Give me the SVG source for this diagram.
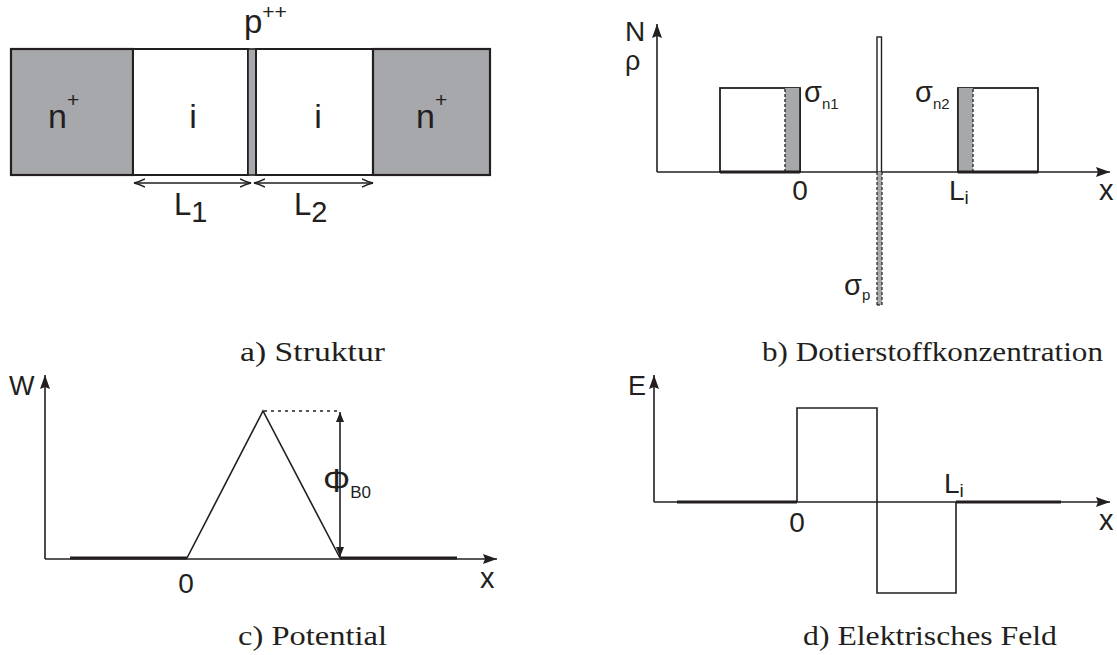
<svg xmlns="http://www.w3.org/2000/svg" width="1117" height="655" viewBox="0 0 1117 655">
<defs>
<style>
.ln{stroke:#231f20;stroke-width:1.6;fill:none}
.bx{stroke:#231f20;stroke-width:2;fill:#fff}
.gr{fill:#a7a8ab;stroke:#231f20;stroke-width:1.6}
.thk{stroke:#231f20;stroke-width:2.8;fill:none}
.dash{stroke:#231f20;stroke-width:1.3;stroke-dasharray:3,2;fill:none}
.t{font-family:"Liberation Sans",Arial,sans-serif;fill:#231f20}
.cap{font-family:"Liberation Serif","Times New Roman",serif;fill:#231f20;font-size:27px}
</style>
<marker id="ah" viewBox="0 0 14 10" refX="14" refY="5" markerWidth="14" markerHeight="10" markerUnits="userSpaceOnUse" orient="auto-start-reverse">
<path d="M0,0 L14,5 L0,10 L2,5 z" fill="#231f20"/>
</marker>
<marker id="ch" viewBox="0 0 12 10" refX="11" refY="5" markerWidth="12" markerHeight="10" markerUnits="userSpaceOnUse" orient="auto-start-reverse">
<path d="M0,1 Q6,4 11,5 Q6,6 0,9" fill="none" stroke="#231f20" stroke-width="1.5"/>
</marker>
<marker id="sa" viewBox="0 0 10 8" refX="10" refY="4" markerWidth="10" markerHeight="8" markerUnits="userSpaceOnUse" orient="auto-start-reverse">
<path d="M0,0 L10,4 L0,8 z" fill="#231f20"/>
</marker>
</defs>

<!-- Panel a: Struktur -->
<g id="panel-a">
  <g id="n-left"><rect x="11" y="49" width="122" height="126" class="gr" style="stroke-width:2.2"/>
    <text class="t" x="48" y="128" font-size="34">n<tspan font-size="21" dy="-21">+</tspan></text></g>
  <g id="i-left"><rect x="133" y="49" width="115" height="126" class="bx"/>
    <text class="t" x="193" y="128" font-size="34" text-anchor="middle">i</text></g>
  <g id="p-layer"><rect x="248" y="49" width="8" height="126" class="gr"/>
    <text class="t" x="244" y="33" font-size="33">p<tspan font-size="21" dy="-14">++</tspan></text></g>
  <g id="i-right"><rect x="256" y="49" width="117" height="126" class="bx"/>
    <text class="t" x="318" y="128" font-size="34" text-anchor="middle">i</text></g>
  <g id="n-right"><rect x="373" y="49" width="117" height="126" class="gr" style="stroke-width:2.2"/>
    <text class="t" x="416" y="128" font-size="34">n<tspan font-size="21" dy="-21">+</tspan></text></g>
  <g id="dims">
    <line x1="134" y1="183" x2="251" y2="183" class="ln" stroke-width="1.4" marker-start="url(#ch)" marker-end="url(#ch)"/>
    <line x1="254" y1="183" x2="373" y2="183" class="ln" stroke-width="1.4" marker-start="url(#ch)" marker-end="url(#ch)"/>
    <text class="t" x="174" y="215" font-size="31">L<tspan font-size="29" dy="7">1</tspan></text>
    <text class="t" x="294" y="215" font-size="31">L<tspan font-size="29" dy="7">2</tspan></text>
  </g>
  <text class="cap" x="240" y="361" textLength="145" lengthAdjust="spacingAndGlyphs">a) Struktur</text>
</g>

<!-- Panel b: Dotierstoffkonzentration -->
<g id="panel-b">
  <g id="b-axes">
    <line x1="657" y1="172" x2="657" y2="24" class="ln" marker-end="url(#ah)"/>
    <line x1="657" y1="172" x2="1110" y2="172" class="ln" marker-end="url(#ah)"/>
    <text class="t" x="625" y="41" font-size="28">N</text>
    <text class="t" x="625" y="70" font-size="27">ρ</text>
    <text class="t" x="1099" y="200" font-size="29">x</text>
  </g>
  <g id="n1-doping">
    <rect x="720" y="88" width="80" height="84" class="bx" style="stroke-width:1.8"/>
    <rect x="785" y="88" width="15" height="84" fill="#a7a8ab"/>
    <line x1="785" y1="89" x2="785" y2="171" class="dash"/>
    <line x1="800" y1="88" x2="800" y2="172" class="ln" stroke-width="2"/>
    <line x1="720" y1="172" x2="800" y2="172" class="thk"/>
    <text class="t" x="804" y="102" font-size="29">σ<tspan font-size="15" dy="7">n1</tspan></text>
    <text class="t" x="800" y="200" font-size="28" text-anchor="middle">0</text>
  </g>
  <g id="p-doping">
    <rect x="877" y="37" width="4.5" height="135" class="bx" style="stroke-width:1.4"/>
    <rect x="877" y="172" width="5" height="133" fill="#a7a8ab"/>
    <line x1="877" y1="172" x2="877" y2="305" class="dash" style="stroke-width:1.2"/>
    <line x1="882" y1="172" x2="882" y2="305" class="dash" style="stroke-width:1.2"/>
    <line x1="877" y1="305" x2="882" y2="305" class="dash" style="stroke-width:1.2"/>
    <text class="t" x="844" y="295" font-size="29">σ<tspan font-size="15" dy="5">p</tspan></text>
  </g>
  <g id="n2-doping">
    <rect x="958" y="88" width="80" height="84" class="bx" style="stroke-width:1.8"/>
    <rect x="958" y="88" width="15" height="84" fill="#a7a8ab"/>
    <line x1="958" y1="88" x2="958" y2="172" class="ln" stroke-width="2"/>
    <line x1="973" y1="89" x2="973" y2="171" class="dash"/>
    <line x1="958" y1="172" x2="1038" y2="172" class="thk"/>
    <text class="t" x="915" y="102" font-size="29">σ<tspan font-size="15" dy="7">n2</tspan></text>
    <text class="t" x="949" y="200" font-size="28">L<tspan font-size="19" dy="4">i</tspan></text>
  </g>
  <text class="cap" x="762" y="361" textLength="341" lengthAdjust="spacingAndGlyphs">b) Dotierstoffkonzentration</text>
</g>

<!-- Panel c: Potential -->
<g id="panel-c">
  <g id="c-axes">
    <line x1="45" y1="559" x2="45" y2="375" class="ln" marker-end="url(#ah)"/>
    <line x1="45" y1="559" x2="497" y2="559" class="ln" marker-end="url(#ah)"/>
    <text class="t" x="9" y="395" font-size="27">W</text>
    <text class="t" x="480" y="588" font-size="29">x</text>
    <text class="t" x="186" y="593" font-size="28" text-anchor="middle">0</text>
  </g>
  <g id="c-curve">
    <line x1="70" y1="558" x2="187" y2="558" class="thk"/>
    <line x1="340" y1="558" x2="457" y2="558" class="thk"/>
    <polyline points="187,558 263,411 340,558" class="ln" stroke-width="1.8"/>
    <line x1="264" y1="411" x2="340" y2="411" class="ln" stroke-width="1.2" stroke-dasharray="3,4"/>
    <line x1="340" y1="412" x2="340" y2="557" class="ln" stroke-width="1.3" marker-start="url(#sa)" marker-end="url(#sa)"/>
    <text class="t" x="323" y="492" font-size="34">Φ<tspan font-size="17" dy="6">B0</tspan></text>
  </g>
  <text class="cap" x="238" y="645" textLength="149" lengthAdjust="spacingAndGlyphs">c) Potential</text>
</g>

<!-- Panel d: Elektrisches Feld -->
<g id="panel-d">
  <g id="d-axes">
    <line x1="654" y1="502" x2="654" y2="375" class="ln" marker-end="url(#ah)"/>
    <line x1="654" y1="502" x2="1110" y2="502" class="ln" marker-end="url(#ah)"/>
    <text class="t" x="628" y="395" font-size="27">E</text>
    <text class="t" x="1099" y="530" font-size="29">x</text>
    <text class="t" x="797" y="532" font-size="28" text-anchor="middle">0</text>
    <text class="t" x="944" y="493" font-size="28">L<tspan font-size="19" dy="4">i</tspan></text>
  </g>
  <g id="d-curve">
    <line x1="677" y1="502" x2="797" y2="502" class="thk"/>
    <line x1="956" y1="502" x2="1061" y2="502" class="thk"/>
    <polyline points="797,502 797,408 877,408 877,593 956,593 956,502" class="ln" stroke-width="1.8"/>
  </g>
  <text class="cap" x="803" y="645" textLength="254" lengthAdjust="spacingAndGlyphs">d) Elektrisches Feld</text>
</g>
</svg>
